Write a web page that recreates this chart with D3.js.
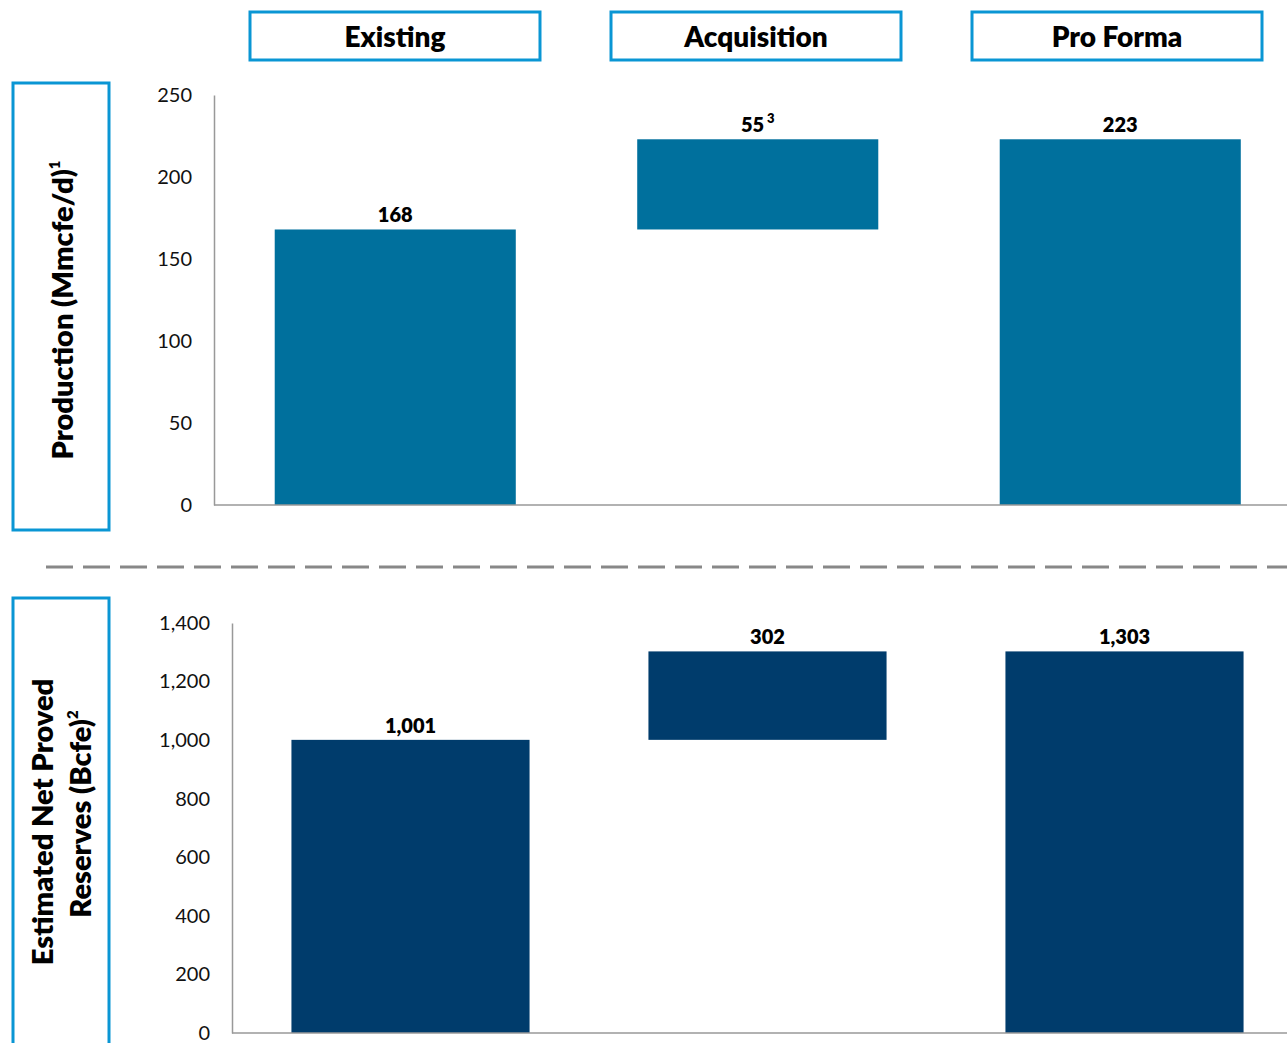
<!DOCTYPE html>
<html><head><meta charset="utf-8">
<script src="https://cdn.jsdelivr.net/npm/d3@7"></script>
<style>body{margin:0;background:#fff;}svg{display:block;font-family:Lato,"Open Sans",sans-serif;}</style>
</head><body>
<svg id="c" width="1287" height="1043"></svg>
<script>
const categories = ["Existing", "Acquisition", "Pro Forma"];
const productionStart = [0, 168, 0];
const productionEnd = [168, 223, 223];
const productionLabels = ["168", "55", "223"];
const productionSup = ["", "3", ""];
const productionTicks = [0, 50, 100, 150, 200, 250];
const reservesStart = [0, 1001, 0];
const reservesEnd = [1001, 1303, 1303];
const reservesLabels = ["1,001", "302", "1,303"];
const reservesTicks = [0, 200, 400, 600, 800, 1000, 1200, 1400];

const svg = d3.select("#c");
const headerBlue = "#0a96d4";

// header boxes
const hx = d3.scaleBand().domain(categories).range([250, 1262]).paddingInner(0.1967).paddingOuter(0);
categories.forEach(c => {
  const x0 = hx(c), w = hx.bandwidth();
  svg.append("rect").attr("x", x0).attr("y", 12).attr("width", w).attr("height", 48)
    .attr("fill", "#fff").attr("stroke", headerBlue).attr("stroke-width", 3);
  svg.append("text").attr("x", x0 + w/2).attr("y", 47).attr("text-anchor", "middle")
    .attr("font-size", 28).attr("font-weight", 800).attr("fill", "#000").text(c);
});

function panel(opt) {
  const g = svg.append("g");
  const x = d3.scaleBand().domain(categories).range([opt.left, opt.left + opt.step*3]).paddingInner(opt.pad).paddingOuter(opt.pad/2);
  const y = d3.scaleLinear().domain([0, opt.max]).range([opt.bottom, opt.top]);
  // bars
  g.selectAll("rect.bar").data(categories).enter().append("rect")
    .attr("x", d => x(d)).attr("width", x.bandwidth())
    .attr("y", (d,i) => y(opt.end[i]))
    .attr("height", (d,i) => y(opt.start[i]) - y(opt.end[i]))
    .attr("fill", opt.color);
  // axis
  const ax = d3.axisLeft(y).tickValues(opt.ticks).tickSize(0).tickPadding(opt.tickPad).tickFormat(d3.format(","));
  const ag = g.append("g").attr("transform", `translate(${opt.left},0)`).call(ax);
  ag.select(".domain").attr("stroke", "#999").attr("stroke-width", 1.5);
  ag.selectAll("text").attr("font-size", 20).attr("fill", "#111").attr("font-family", "Lato,'Open Sans',sans-serif");
  g.append("line").attr("x1", opt.left).attr("x2", 1287).attr("y1", opt.bottom).attr("y2", opt.bottom)
    .attr("stroke", "#999").attr("stroke-width", 1.5);
  // labels
  categories.forEach((c, i) => {
    const t = g.append("text").attr("x", x(c) + x.bandwidth()/2).attr("y", y(opt.end[i]) - 7)
      .attr("text-anchor", "middle").attr("font-size", 20).attr("font-weight", 800).attr("fill", "#000")
      .text(opt.labels[i]);
    if (opt.sup && opt.sup[i]) {
      t.append("tspan").attr("font-size", 13).attr("dy", -9).attr("dx", 3).text(opt.sup[i]);
    }
  });
}

panel({left: 214, step: 362.5, pad: 0.335, top: 95, bottom: 505, max: 250, color: "#00709d",
  start: productionStart, end: productionEnd, labels: productionLabels, sup: productionSup, ticks: productionTicks, tickPad: 22});
panel({left: 232, step: 357, pad: 0.333, top: 623, bottom: 1033, max: 1400, color: "#003c6c",
  start: reservesStart, end: reservesEnd, labels: reservesLabels, ticks: reservesTicks, tickPad: 22});

// dashed separator
svg.append("line").attr("x1", 46).attr("x2", 1287).attr("y1", 567).attr("y2", 567)
  .attr("stroke", "#888").attr("stroke-width", 3).attr("stroke-dasharray", "27,10");

// left label boxes
svg.append("rect").attr("x", 13).attr("y", 83).attr("width", 96).attr("height", 447)
  .attr("fill", "none").attr("stroke", headerBlue).attr("stroke-width", 3);
const t1 = svg.append("text").attr("transform", "translate(73,310) rotate(-90)")
  .attr("text-anchor", "middle").attr("font-size", 29).attr("font-weight", 800).attr("fill", "#000")
  .text("Production (Mmcfe/d)");
t1.append("tspan").attr("font-size", 15).attr("dy", -13).text("1");

svg.append("rect").attr("x", 13).attr("y", 598).attr("width", 96).attr("height", 460)
  .attr("fill", "none").attr("stroke", headerBlue).attr("stroke-width", 3);
svg.append("text").attr("transform", "translate(53,822) rotate(-90)")
  .attr("text-anchor", "middle").attr("font-size", 29).attr("font-weight", 800).attr("fill", "#000")
  .text("Estimated Net Proved");
const t2 = svg.append("text").attr("transform", "translate(91,814) rotate(-90)")
  .attr("text-anchor", "middle").attr("font-size", 29).attr("font-weight", 800).attr("fill", "#000")
  .text("Reserves (Bcfe)");
t2.append("tspan").attr("font-size", 15).attr("dy", -13).text("2");
</script>
</body></html>
